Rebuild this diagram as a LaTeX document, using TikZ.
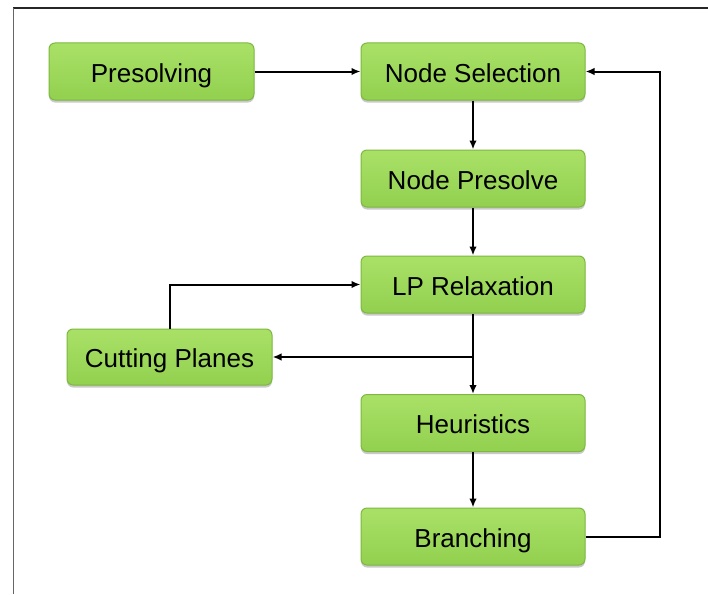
\documentclass[tikz,border=0pt]{standalone}
\usepackage{fontspec}
\setmainfont{Liberation Sans}
\usetikzlibrary{arrows.meta,shadows,calc}
\definecolor{boxtop}{HTML}{A9E167}
\definecolor{boxbot}{HTML}{92D04F}
\definecolor{boxrim}{HTML}{7DB83F}
\begin{document}
\begin{tikzpicture}[x=1pt,y=1pt,
  stage/.style={draw=boxrim, line width=1pt, rounded corners=6pt,
    top color=boxtop, bottom color=boxbot,
    drop shadow={shadow xshift=0pt, shadow yshift=-2.5pt, opacity=0.35, fill=black!60},
    minimum width=224pt, minimum height=57pt, inner sep=0pt,
    text height=24pt, text depth=3pt,
    font=\fontsize{26}{29}\selectfont, text=black},
  side/.style={stage, minimum width=205pt},
  flow/.style={line width=2pt, -{Latex[length=9pt,width=7.5pt]}},
  wire/.style={line width=2pt}]
\useasboundingbox (0,0) rectangle (708,-594);
\fill[white] (0,0) rectangle (708,-594);
% page frame
\draw[line width=1.5pt, black!85] (13,-8) -- (708,-8);
\draw[line width=1pt, black!60] (13,-8) -- (13,-594);

% stages
\node[side]  (pre)  at (151.5,-71.5) {Presolving};
\node[stage] (sel)  at (473,-71.5)   {Node Selection};
\node[stage] (npre) at (473,-178.5)  {Node Presolve};
\node[stage] (lp)   at (473,-284.5)  {LP Relaxation};
\node[side, minimum height=56pt] (cut) at (169.5,-357) {Cutting Planes};
\node[stage] (heur) at (473,-423)    {Heuristics};
\node[stage] (br)   at (473,-536.5)  {Branching};

% junction and loop corner
\coordinate (split) at (473,-357);
\coordinate (loop) at (660,-536.5);

% connectors
\draw[flow] (pre.east) -- (sel.west);
\draw[flow] (sel.south) -- (npre.north);
\draw[flow] (npre.south) -- (lp.north);
\draw[flow] (lp.south) -- (heur.north);
\draw[flow] (split) -- (cut.east);
\draw[flow] (cut.north) |- (lp.west);
\draw[flow] (heur.south) -- (br.north);
\draw[flow] (br.east) -- (loop) |- (sel.east);
\end{tikzpicture}
\end{document}
